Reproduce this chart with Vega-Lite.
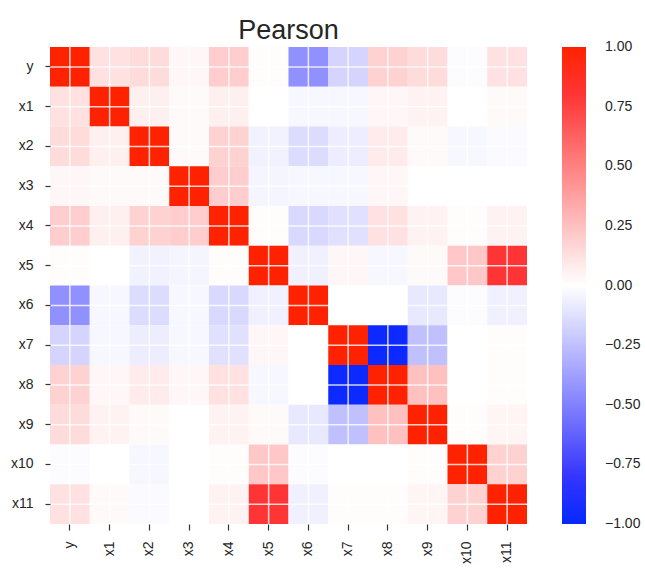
{
  "$schema": "https://vega.github.io/schema/vega-lite/v6.json",
  "autosize": "none",
  "width": 477,
  "height": 477,
  "padding": {"left": 50, "top": 47, "right": 118, "bottom": 50},
  "background": "white",
  "title": {"text": "Pearson", "fontSize": 27, "font": "Liberation Sans", "fontWeight": "normal", "color": "#262626", "offset": 1},
  "data": {"values": [
    {"r":"y","c":"y","v":1},{"r":"y","c":"x1","v":0.12},{"r":"y","c":"x2","v":0.14},{"r":"y","c":"x3","v":0.03},{"r":"y","c":"x4","v":0.2},{"r":"y","c":"x5","v":0.01},{"r":"y","c":"x6","v":-0.44},{"r":"y","c":"x7","v":-0.17},{"r":"y","c":"x8","v":0.18},{"r":"y","c":"x9","v":0.14},{"r":"y","c":"x10","v":-0.01},{"r":"y","c":"x11","v":0.12},
    {"r":"x1","c":"y","v":0.12},{"r":"x1","c":"x1","v":1},{"r":"x1","c":"x2","v":0.06},{"r":"x1","c":"x3","v":0.02},{"r":"x1","c":"x4","v":0.06},{"r":"x1","c":"x5","v":0.0},{"r":"x1","c":"x6","v":-0.03},{"r":"x1","c":"x7","v":-0.03},{"r":"x1","c":"x8","v":0.03},{"r":"x1","c":"x9","v":0.05},{"r":"x1","c":"x10","v":0.0},{"r":"x1","c":"x11","v":0.02},
    {"r":"x2","c":"y","v":0.14},{"r":"x2","c":"x1","v":0.06},{"r":"x2","c":"x2","v":1},{"r":"x2","c":"x3","v":0.02},{"r":"x2","c":"x4","v":0.18},{"r":"x2","c":"x5","v":-0.05},{"r":"x2","c":"x6","v":-0.14},{"r":"x2","c":"x7","v":-0.07},{"r":"x2","c":"x8","v":0.08},{"r":"x2","c":"x9","v":0.02},{"r":"x2","c":"x10","v":-0.03},{"r":"x2","c":"x11","v":-0.02},
    {"r":"x3","c":"y","v":0.03},{"r":"x3","c":"x1","v":0.02},{"r":"x3","c":"x2","v":0.02},{"r":"x3","c":"x3","v":1},{"r":"x3","c":"x4","v":0.2},{"r":"x3","c":"x5","v":-0.04},{"r":"x3","c":"x6","v":-0.03},{"r":"x3","c":"x7","v":-0.03},{"r":"x3","c":"x8","v":0.03},{"r":"x3","c":"x9","v":0.0},{"r":"x3","c":"x10","v":0.0},{"r":"x3","c":"x11","v":0.0},
    {"r":"x4","c":"y","v":0.2},{"r":"x4","c":"x1","v":0.06},{"r":"x4","c":"x2","v":0.18},{"r":"x4","c":"x3","v":0.2},{"r":"x4","c":"x4","v":1},{"r":"x4","c":"x5","v":0.01},{"r":"x4","c":"x6","v":-0.15},{"r":"x4","c":"x7","v":-0.12},{"r":"x4","c":"x8","v":0.12},{"r":"x4","c":"x9","v":0.05},{"r":"x4","c":"x10","v":0.01},{"r":"x4","c":"x11","v":0.05},
    {"r":"x5","c":"y","v":0.01},{"r":"x5","c":"x1","v":0.0},{"r":"x5","c":"x2","v":-0.05},{"r":"x5","c":"x3","v":-0.04},{"r":"x5","c":"x4","v":0.01},{"r":"x5","c":"x5","v":1},{"r":"x5","c":"x6","v":-0.06},{"r":"x5","c":"x7","v":0.03},{"r":"x5","c":"x8","v":-0.03},{"r":"x5","c":"x9","v":0.02},{"r":"x5","c":"x10","v":0.22},{"r":"x5","c":"x11","v":0.8},
    {"r":"x6","c":"y","v":-0.44},{"r":"x6","c":"x1","v":-0.03},{"r":"x6","c":"x2","v":-0.14},{"r":"x6","c":"x3","v":-0.03},{"r":"x6","c":"x4","v":-0.15},{"r":"x6","c":"x5","v":-0.06},{"r":"x6","c":"x6","v":1},{"r":"x6","c":"x7","v":0.0},{"r":"x6","c":"x8","v":0.0},{"r":"x6","c":"x9","v":-0.09},{"r":"x6","c":"x10","v":-0.01},{"r":"x6","c":"x11","v":-0.06},
    {"r":"x7","c":"y","v":-0.17},{"r":"x7","c":"x1","v":-0.03},{"r":"x7","c":"x2","v":-0.07},{"r":"x7","c":"x3","v":-0.03},{"r":"x7","c":"x4","v":-0.12},{"r":"x7","c":"x5","v":0.03},{"r":"x7","c":"x6","v":0.0},{"r":"x7","c":"x7","v":1},{"r":"x7","c":"x8","v":-0.97},{"r":"x7","c":"x9","v":-0.25},{"r":"x7","c":"x10","v":0.0},{"r":"x7","c":"x11","v":0.01},
    {"r":"x8","c":"y","v":0.18},{"r":"x8","c":"x1","v":0.03},{"r":"x8","c":"x2","v":0.08},{"r":"x8","c":"x3","v":0.03},{"r":"x8","c":"x4","v":0.12},{"r":"x8","c":"x5","v":-0.03},{"r":"x8","c":"x6","v":0.0},{"r":"x8","c":"x7","v":-0.97},{"r":"x8","c":"x8","v":1},{"r":"x8","c":"x9","v":0.25},{"r":"x8","c":"x10","v":0.0},{"r":"x8","c":"x11","v":0.01},
    {"r":"x9","c":"y","v":0.14},{"r":"x9","c":"x1","v":0.05},{"r":"x9","c":"x2","v":0.02},{"r":"x9","c":"x3","v":0.0},{"r":"x9","c":"x4","v":0.05},{"r":"x9","c":"x5","v":0.02},{"r":"x9","c":"x6","v":-0.09},{"r":"x9","c":"x7","v":-0.25},{"r":"x9","c":"x8","v":0.25},{"r":"x9","c":"x9","v":1},{"r":"x9","c":"x10","v":0.01},{"r":"x9","c":"x11","v":0.04},
    {"r":"x10","c":"y","v":-0.01},{"r":"x10","c":"x1","v":0.0},{"r":"x10","c":"x2","v":-0.03},{"r":"x10","c":"x3","v":0.0},{"r":"x10","c":"x4","v":0.01},{"r":"x10","c":"x5","v":0.22},{"r":"x10","c":"x6","v":-0.01},{"r":"x10","c":"x7","v":0.0},{"r":"x10","c":"x8","v":0.0},{"r":"x10","c":"x9","v":0.01},{"r":"x10","c":"x10","v":1},{"r":"x10","c":"x11","v":0.18},
    {"r":"x11","c":"y","v":0.12},{"r":"x11","c":"x1","v":0.02},{"r":"x11","c":"x2","v":-0.02},{"r":"x11","c":"x3","v":0.0},{"r":"x11","c":"x4","v":0.05},{"r":"x11","c":"x5","v":0.8},{"r":"x11","c":"x6","v":-0.06},{"r":"x11","c":"x7","v":0.01},{"r":"x11","c":"x8","v":0.01},{"r":"x11","c":"x9","v":0.04},{"r":"x11","c":"x10","v":0.18},{"r":"x11","c":"x11","v":1}
  ]},
  "layer": [
    {
      "mark": {"type": "rect"},
      "encoding": {
        "x": {"field": "c", "type": "nominal", "sort": ["y","x1","x2","x3","x4","x5","x6","x7","x8","x9","x10","x11"],
          "scale": {"domain": ["y","x1","x2","x3","x4","x5","x6","x7","x8","x9","x10","x11"], "paddingInner": 0, "paddingOuter": 0},
          "axis": {"title": null, "grid": false, "labelAngle": 270, "labelFontSize": 14, "labelPadding": 11, "tickSize": 6, "bandPosition": 0.5}},
        "y": {"field": "r", "type": "nominal", "sort": ["y","x1","x2","x3","x4","x5","x6","x7","x8","x9","x10","x11"],
          "scale": {"domain": ["y","x1","x2","x3","x4","x5","x6","x7","x8","x9","x10","x11"], "paddingInner": 0, "paddingOuter": 0},
          "axis": {"title": null, "grid": false, "labelFontSize": 14, "labelPadding": 12, "tickSize": 5, "bandPosition": 0.5}},
        "color": {"field": "v", "type": "quantitative",
          "scale": {"domain": [-1, -0.8, 0, 0.8, 1], "range": ["#0528ff", "#3535ff", "#ffffff", "#ff3535", "#ff2200"], "interpolate": "rgb"},
          "legend": {"title": null, "direction": "vertical", "gradientLength": 477, "gradientThickness": 24, "values": [-1,-0.75,-0.5,-0.25,0,0.25,0.5,0.75,1], "format": ".2f", "labelFontSize": 14, "labelOffset": 19, "offset": 35, "padding": 0, "gradientStrokeWidth": 0, "labelOverlap": false,
            "encode": {"labels": {"update": {"baseline": {"value": "middle"}}}}}}
      }
    },
    {
      "transform": [{"aggregate": [{"op": "count", "as": "n"}], "groupby": ["c"]}],
      "mark": {"type": "rule", "color": "#ffffff", "strokeWidth": 1.5, "opacity": 0.8},
      "encoding": {"x": {"field": "c", "type": "nominal", "sort": ["y","x1","x2","x3","x4","x5","x6","x7","x8","x9","x10","x11"], "bandPosition": 0.5}}
    },
    {
      "transform": [{"aggregate": [{"op": "count", "as": "n"}], "groupby": ["r"]}],
      "mark": {"type": "rule", "color": "#ffffff", "strokeWidth": 1.5, "opacity": 0.8},
      "encoding": {"y": {"field": "r", "type": "nominal", "sort": ["y","x1","x2","x3","x4","x5","x6","x7","x8","x9","x10","x11"], "bandPosition": 0.5}}
    }
  ],
  "config": {
    "view": {"stroke": null},
    "font": "Liberation Sans",
    "axis": {"domain": false, "tickColor": "#333333", "tickWidth": 1.2, "labelColor": "#262626", "labelFont": "Liberation Sans"},
    "legend": {"labelColor": "#262626", "labelFont": "Liberation Sans"}
  }
}
